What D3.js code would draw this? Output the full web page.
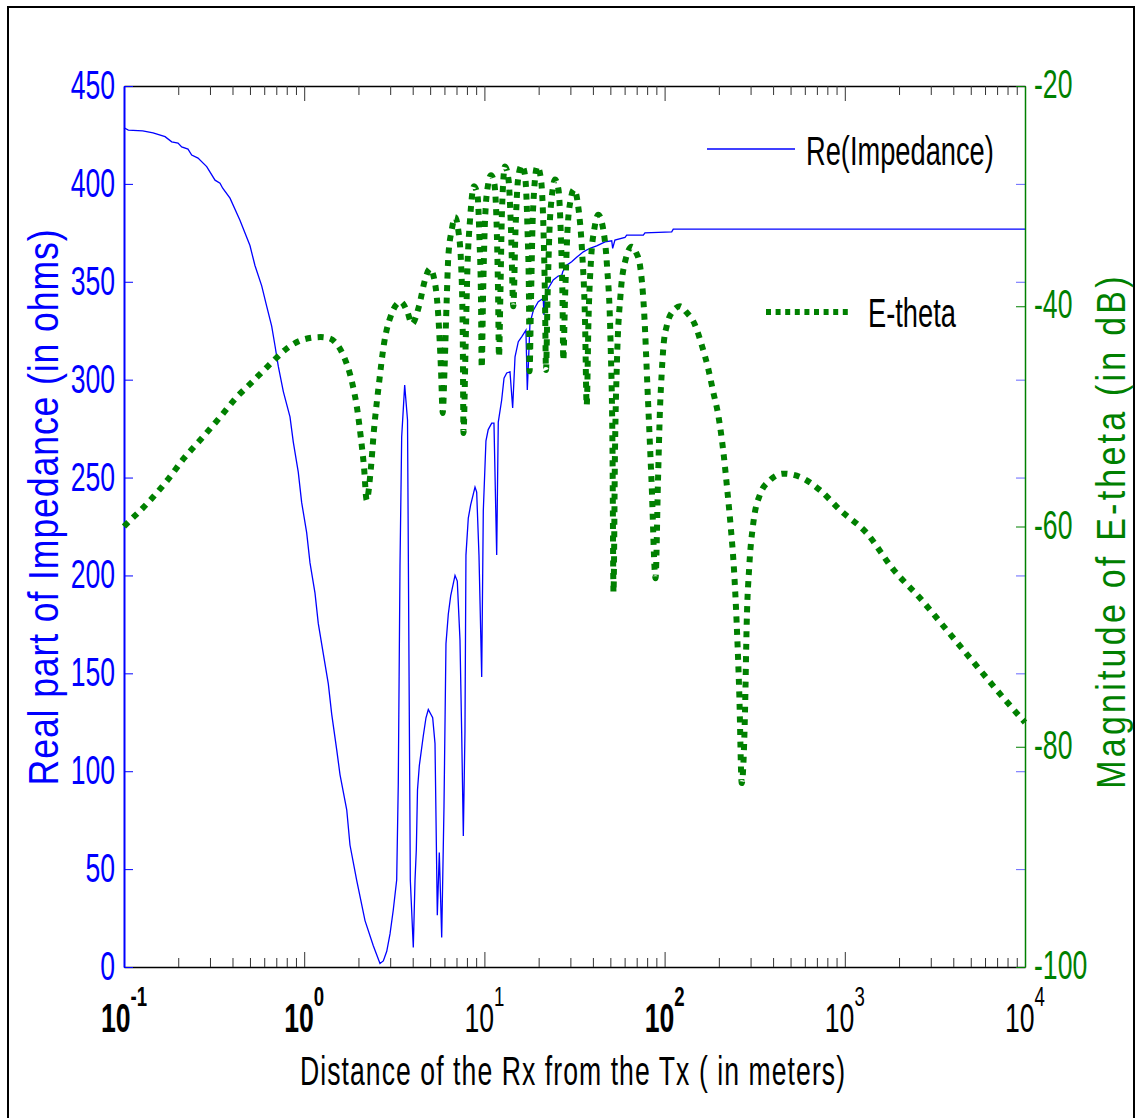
<!DOCTYPE html>
<html>
<head>
<meta charset="utf-8">
<script src="https://cdn.jsdelivr.net/npm/d3@7/dist/d3.min.js"></script>
<style>
  body { margin: 0; background: #fff; }
  text { font-family: "Liberation Sans", Arial, Helvetica, sans-serif; }
</style>
</head>
<body>
<svg id="chart" width="1136" height="1118"></svg>
<script>
/* global d3 */

// Re(Impedance) in ohms against distance Rx-Tx (m)
const zDist = [0.1, 0.1057, 0.127, 0.145, 0.169, 0.184, 0.1994, 0.209, 0.2265, 0.2375,
  0.2575, 0.2877, 0.320, 0.341, 0.353, 0.3875, 0.440, 0.500, 0.533, 0.581,
  0.619, 0.660, 0.689, 0.718, 0.766, 0.834, 0.870, 0.927, 0.968, 1.032,
  1.077, 1.148, 1.197, 1.276, 1.361, 1.421, 1.514, 1.580, 1.722, 1.795,
  1.956, 2.175, 2.418, 2.634, 2.748, 2.871, 2.994, 3.121, 3.260, 3.327,
  3.401, 3.475, 3.611, 3.744, 3.880, 4.031, 4.121, 4.189, 4.253, 4.353,
  4.579, 4.74, 4.883, 5.164, 5.32, 5.479, 5.62, 5.795, 5.968, 6.12,
  6.306, 6.50, 6.87, 7.072, 7.32, 7.48, 7.64, 7.80, 7.90, 8.14,
  8.39, 8.87, 9.06, 9.33, 9.66, 9.86, 10.2, 10.5, 10.98, 11.3,
  11.7, 11.94, 12.47, 12.85, 13.3, 13.87, 14.35, 14.79, 15.42, 16.1,
  17.0, 17.3, 17.52, 17.9, 18.7, 19.9, 21.2, 21.4, 21.7, 22.6,
  24.1, 25.7, 26.9, 27.2, 28.6, 30.5, 32.5, 35.4, 38.5, 42.0,
  46.7, 50.9, 51.5, 53.0, 60.3, 61.6, 76.2, 77.8, 109.5, 111.7,
  10000]
const zReal = [428.7, 427.5, 427.1, 426.1, 424.1, 421.5, 420.8, 418.9, 417.8, 414.7,
  413.2, 408.8, 401.9, 400.4, 397.8, 392.7, 381.4, 368.5, 358.3, 347.9,
  337.6, 327.4, 317.2, 306.9, 293.9, 281.0, 268.1, 252.8, 237.3, 221.9,
  206.4, 191.0, 175.5, 160.1, 144.6, 129.2, 111.2, 98.3, 80.3, 62.3,
  44.3, 23.7, 10.9, 1.8, 3.1, 8, 16.9, 29.1, 44.4, 93.5,
  204.8, 270.7, 297.2, 279.4, 44.4, 10.0, 44.4, 59.8, 90.4, 102.8,
  118.0, 127.3, 131.5, 127.3, 114.1, 26.4, 58.5, 15.1, 82.2, 165.1,
  180.3, 189.6, 200.0, 197.1, 167.0, 119.8, 66.9, 119.8, 210.4, 229.3,
  236.0, 245.1, 242.6, 210.4, 148.1, 232.9, 268.8, 274.5, 277.8, 277.8,
  210.4, 278.3, 289.6, 300.8, 303.4, 304.0, 285.5, 311.7, 319.4, 321.9,
  325.3, 294.7, 306.6, 328.8, 335.5, 339.8, 341.5, 333.0, 342.3, 346.6,
  350.9, 352.9, 353.4, 355.1, 358.5, 360.2, 362.5, 365.3, 367.1, 368.3,
  370.4, 370.9, 367.1, 371.3, 372.7, 373.8, 373.8, 375.0, 375.5, 376.9,
  376.9]

// |E-theta| in dB against distance (m)
const eDist = [0.1, 0.1043, 0.1347, 0.174, 0.2153, 0.2665, 0.344, 0.425, 0.505, 0.598,
  0.680, 0.806, 0.9975, 1.235, 1.373, 1.527, 1.663, 1.849, 1.971, 2.058,
  2.147, 2.222, 2.339, 2.440, 2.601, 2.773, 3.020, 3.432, 3.734, 3.965,
  4.335, 4.681, 4.990, 5.32, 5.564, 5.744, 5.870, 6.007, 6.178, 6.306,
  6.584, 6.869, 7.165, 7.435, 7.579, 7.656, 7.855, 8.057, 8.318, 8.754,
  9.155, 9.393, 9.574, 9.661, 9.822, 10.08, 10.47, 10.88, 11.31, 11.67,
  11.90, 12.05, 12.28, 12.52, 13.01, 13.61, 14.05, 14.47, 14.88, 15.37,
  16.11, 16.80, 17.35, 17.68, 17.81, 18.14, 18.61, 19.66, 20.61, 21.28,
  21.69, 21.97, 22.40, 22.97, 23.72, 24.65, 25.77, 26.61, 27.13, 27.40,
  28.01, 28.92, 30.05, 31.42, 33.07, 34.80, 36.16, 36.96, 37.82, 39.05,
  40.83, 42.86, 45.51, 47.90, 50.10, 51.39, 52.05, 53.06, 54.43, 56.92,
  60.67, 65.68, 69.39, 73.03, 76.85, 80.87, 84.57, 89.04, 91.92, 94.30,
  96.36, 98.35, 102.7, 111.8, 121.8, 131.5, 147.5, 160.6, 174.8, 186.3,
  198.6, 211.8, 222.8, 232.7, 242.7, 251.2, 259.7, 267.9, 279.4, 285.5,
  295.1, 310.6, 338.3, 384.4, 455.6, 564.1, 728.5, 940.6, 1323, 1858,
  2614, 3677, 5167, 7265, 10000]
const eDb = [-60.0, -59.7, -57.9, -55.8, -53.8, -52.1, -50.0, -48.2, -47.0, -45.8,
  -44.9, -43.8, -43.0, -42.8, -42.9, -43.5, -44.6, -47.0, -49.4, -51.8,
  -54.6, -57.6, -54.9, -51.2, -47.0, -43.4, -40.9, -39.6, -40.5, -41.6,
  -40.0, -37.6, -36.6, -37.9, -41.2, -45.8, -49.7, -45.8, -39.4, -35.5,
  -33.1, -31.9, -33.1, -36.4, -42.2, -51.5, -44.0, -36.4, -32.2, -29.1,
  -29.9, -34.0, -39.4, -45.6, -39.4, -32.2, -29.0, -28.1, -28.7, -32.2,
  -38.5, -44.6, -38.5, -31.3, -27.3, -28.5, -33.1, -40.0, -33.1, -28.5,
  -27.2, -28.1, -33.1, -39.4, -45.9, -39.4, -31.3, -27.3, -28.5, -33.1,
  -39.4, -45.8, -39.4, -33.1, -29.9, -28.5, -29.4, -34.0, -39.4, -44.9,
  -39.4, -33.1, -30.4, -29.4, -30.8, -34.9, -41.2, -49.0, -41.2, -35.8,
  -32.9, -31.7, -32.9, -36.3, -43.1, -53.1, -66.0, -53.1, -44.9, -39.0,
  -35.8, -34.6, -35.1, -36.3, -40.3, -48.5, -55.8, -64.7, -55.8, -49.3,
  -46.1, -43.8, -41.8, -40.4, -40.0, -40.5, -41.7, -43.5, -45.7, -47.8,
  -49.9, -53.2, -56.7, -60.0, -63.9, -68.8, -75.2, -83.3, -76.8, -68.8,
  -63.6, -59.7, -57.1, -55.8, -55.2, -55.5, -56.7, -58.5, -60.6, -63.9,
  -66.5, -69.4, -72.3, -75.2, -77.8]

const xExps = [-1, 0, 1, 2, 3, 4]
const leftTicks = [0, 50, 100, 150, 200, 250, 300, 350, 400, 450]
const rightTicks = [-100, -80, -60, -40, -20]
const legendNames = ['Re(Impedance)', 'E-theta']

const BLUE = '#0000ff'
const GREEN = '#008000'
const SX = 0.665 // the figure's font is a narrow one
const m = { left: 124, right: 1025, top: 86, bottom: 967 }

const svg = d3.select('#chart')

const x = d3.scaleLog().domain([0.1, 1e4]).range([m.left, m.right])
const yL = d3.scaleLinear().domain([0, 450]).range([m.bottom, m.top])
const yR = d3.scaleLinear().domain([-100, -20]).range([m.bottom, m.top])

function squeezed (g, px, py, txt, o = {}) {
  return g.append('text')
    .attr('transform', `translate(${px},${py})` + (o.rotate ? ` rotate(${o.rotate})` : '') + ` scale(${o.sx || SX},1)`)
    .attr('text-anchor', o.anchor || 'start')
    .attr('font-size', o.size || 40)
    .attr('letter-spacing', o.spacing || 0)
    .attr('fill', o.color || '#000')
    .text(txt)
}

// outer figure frame
svg.append('rect')
  .attr('x', 8).attr('y', 7)
  .attr('width', 1126).attr('height', 1130)
  .attr('fill', 'none')
  .attr('stroke', '#000')
  .attr('stroke-width', 2)

// x axis ticks, bottom and top, pointing inward
const majors = xExps.map(e => Math.pow(10, e))
const minors = d3.range(-1, 4).flatMap(e => d3.range(2, 10).map(k => k * Math.pow(10, e)))

function xTicks (axisFn, yPos) {
  const g = svg.append('g').attr('transform', `translate(0,${yPos})`)
  g.call(axisFn(x).tickValues(majors).tickSize(-15).tickSizeOuter(0).tickFormat(''))
  const gm = g.append('g').call(axisFn(x).tickValues(minors).tickSize(-9).tickSizeOuter(0).tickFormat(''))
  gm.select('path.domain').remove()
  g.select('path.domain').attr('stroke', '#000').attr('stroke-width', 1.5)
  g.selectAll('line').attr('stroke', '#333')
  return g
}
xTicks(d3.axisBottom, m.bottom)
xTicks(d3.axisTop, m.top)

// left (blue) axis and its mirror ticks on the right
const gl = svg.append('g').attr('transform', `translate(${m.left},0)`)
  .call(d3.axisLeft(yL).tickValues(leftTicks).tickSize(-9).tickSizeOuter(0).tickFormat(''))
gl.select('path.domain').attr('stroke', BLUE).attr('stroke-width', 2)
gl.selectAll('line').attr('stroke', BLUE)

const glm = svg.append('g').attr('transform', `translate(${m.right},0)`)
  .call(d3.axisRight(yL).tickValues(leftTicks).tickSize(-9).tickSizeOuter(0).tickFormat(''))
glm.select('path.domain').remove()
glm.selectAll('line').attr('stroke', BLUE).attr('opacity', 0.6)

// right (green) axis
const gr = svg.append('g').attr('transform', `translate(${m.right},0)`)
  .call(d3.axisRight(yR).tickValues(rightTicks).tickSize(-9).tickSizeOuter(0).tickFormat(''))
gr.select('path.domain').attr('stroke', GREEN).attr('stroke-width', 1.5)
gr.selectAll('line').attr('stroke', GREEN)

// tick labels
const labels = svg.append('g')
leftTicks.forEach(v => squeezed(labels, m.left - 9, yL(v) + 13, String(v), { anchor: 'end', color: BLUE }))
rightTicks.forEach(v => squeezed(labels, m.right + 9, yR(v) + 12, String(v), { color: GREEN }))
xExps.forEach(e => {
  const t = squeezed(labels, x(Math.pow(10, e)), 1032, '', { anchor: 'middle' })
  // 10^-1, 10^0 and 10^2 print heavier in the figure
  t.attr('font-weight', [-1, 0, 2].includes(e) ? 'bold' : 'normal')
  t.append('tspan').text('10')
  t.append('tspan').attr('dy', -26).attr('font-size', 28).text(String(e))
})

// axis titles
squeezed(svg, 573, 1085, 'Distance of the Rx from the Tx ( in meters)', { anchor: 'middle', spacing: 1.6 })
squeezed(svg, 58, 507, 'Real part of Impedance  (in ohms)', { anchor: 'middle', rotate: -90, sx: 0.85, size: 42, color: BLUE, spacing: 1 })
squeezed(svg, 1125, 531, 'Magnitude of E-theta (in dB)', { anchor: 'middle', rotate: -90, sx: 0.85, size: 40, color: GREEN, spacing: 3.8 })

// series
const zLine = d3.line().x(d => x(d[0])).y(d => yL(d[1]))
const eLine = d3.line().x(d => x(d[0])).y(d => yR(d[1])).curve(d3.curveMonotoneX)

svg.append('path')
  .datum(d3.zip(zDist, zReal))
  .attr('d', zLine)
  .attr('fill', 'none')
  .attr('stroke', BLUE)
  .attr('stroke-width', 1.3)

svg.append('path')
  .datum(d3.zip(eDist, eDb))
  .attr('d', eLine)
  .attr('fill', 'none')
  .attr('stroke', GREEN)
  .attr('stroke-width', 6)
  .attr('stroke-dasharray', '6 6.5')

// legend, no box
const lg = svg.append('g')
lg.append('line').attr('x1', 707).attr('x2', 795).attr('y1', 149).attr('y2', 149)
  .attr('stroke', BLUE).attr('stroke-width', 1.3)
squeezed(lg, 806, 165, legendNames[0], { size: 41 })
lg.append('line').attr('x1', 766).attr('x2', 852).attr('y1', 312).attr('y2', 312)
  .attr('stroke', GREEN).attr('stroke-width', 6).attr('stroke-dasharray', '5 4.6')
squeezed(lg, 868, 327, legendNames[1], { size: 41 })
</script>
</body>
</html>
